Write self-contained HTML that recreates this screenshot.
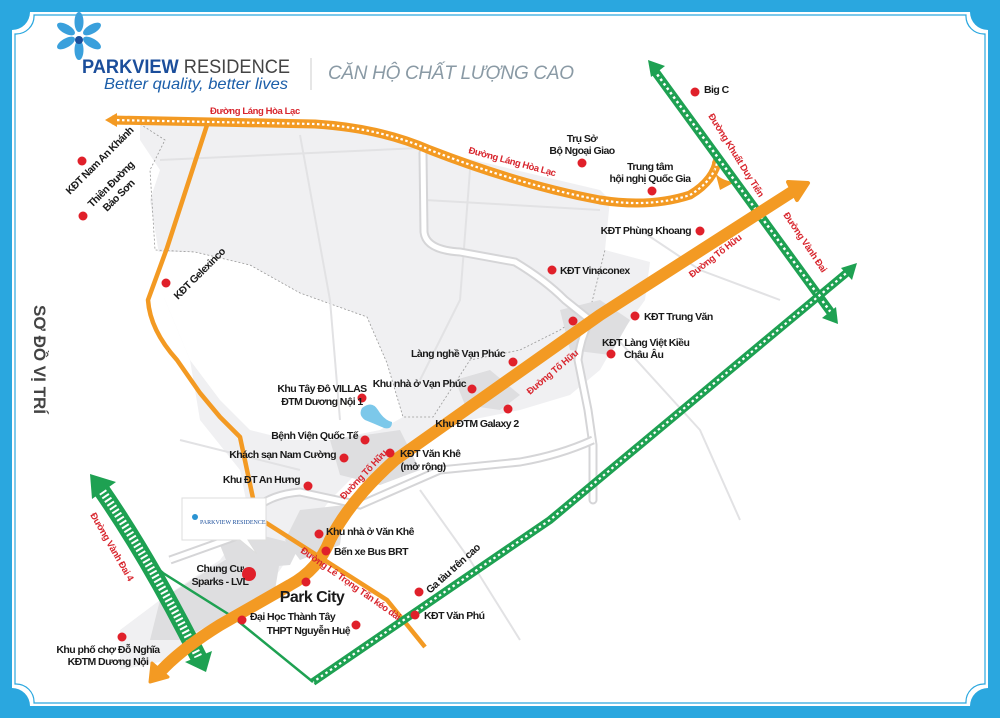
<!DOCTYPE html>
<html><head><meta charset="utf-8"><style>
html,body{margin:0;padding:0;width:1000px;height:718px;overflow:hidden;background:#2aa7df}
svg{display:block}
.t{font-family:"Liberation Sans Narrow","Liberation Sans",sans-serif;font-weight:bold;font-size:10.5px;letter-spacing:-0.55px;fill:#1a1a1a}
.r{font-family:"Liberation Sans Narrow","Liberation Sans",sans-serif;font-weight:bold;font-size:9.5px;letter-spacing:-0.4px;fill:#d8262e}
</style></head><body>
<svg width="1000" height="718" viewBox="0 0 1000 718" xmlns="http://www.w3.org/2000/svg">
<rect width="1000" height="718" fill="#2aa7df"/>
<path d="M30,12 H970 A18,18 0 0 0 988,30 V688 A18,18 0 0 0 970,706 H30 A18,18 0 0 0 12,688 V30 A18,18 0 0 0 30,12 Z" fill="#fff"/>
<path d="M34,15 H966 A18,18 0 0 0 985,34 V684 A18,18 0 0 0 966,703 H34 A18,18 0 0 0 15,684 V34 A18,18 0 0 0 34,15 Z" fill="none" stroke="#2aa7df" stroke-width="1.2"/>
<!-- grey area -->
<path d="M140,124 L330,126 L600,190 L610,200 L605,250 L650,262 L645,300 L620,335 L600,370 L570,395 L520,410 L470,420 L420,440 L360,470 L330,500 L300,540 L280,570 L250,610 L200,640 L170,660 L120,670 L120,630 L160,600 L220,560 L250,520 L240,470 L200,420 L190,360 L165,300 L160,260 L155,230 L150,200 L160,170 L140,140 Z" fill="#f0f0f2"/>
<path d="M155,252 L195,252 L250,265 L300,293 L367,317 L387,363 L403,417 L380,430 L330,440 L290,440 L250,430 L220,400 L190,360 L165,300 Z" fill="#fff"/>
<path d="M140,124 L165,140 L150,170 L155,250 L195,252 L250,265 L300,293 L367,317 L387,363 L403,417 L433,417 L470,360 L520,350 L560,330 L590,310 L605,250" fill="none" stroke="#999" stroke-width="0.8" stroke-dasharray="2,2"/>
<g stroke="#e2e2e4" stroke-width="2" fill="none">
<path d="M160,160 L420,148"/><path d="M300,135 L330,300 L340,420"/><path d="M425,200 L600,210"/>
<path d="M470,170 L460,300 L420,380"/><path d="M180,440 L300,470"/><path d="M600,320 L700,430 L740,520"/>
<path d="M640,230 L700,270 L780,300"/><path d="M420,490 L470,560 L520,640"/>
</g>
<g fill="#dedee0">
<path d="M160,600 L225,560 L280,560 L275,590 L230,615 L180,640 L150,640 Z"/>
<path d="M220,545 L260,535 L300,545 L290,565 L230,570 Z"/>
<path d="M300,510 L345,505 L340,545 L300,560 L285,540 Z"/>
<path d="M330,440 L400,430 L420,470 L380,485 L340,475 Z"/>
<path d="M455,380 L490,370 L520,395 L500,410 L465,405 Z"/>
<path d="M560,310 L600,300 L630,320 L610,355 L570,350 Z"/>
</g>
<path d="M423,153 L424,232 Q426,250 460,252 L515,262 Q545,280 565,300 L590,320 Q580,340 578,360 L588,410 L593,445 L593,500" fill="none" stroke="#d5d5d7" stroke-width="9" stroke-linecap="round"/>
<path d="M423,153 L424,232 Q426,250 460,252 L515,262 Q545,280 565,300 L590,320 Q580,340 578,360 L588,410 L593,445 L593,500" fill="none" stroke="#fff" stroke-width="5" stroke-linecap="round"/>
<path d="M593,440 Q560,455 520,462 L440,470 L360,505 L300,492 Q265,495 250,515 L240,535 L170,560" fill="none" stroke="#d5d5d7" stroke-width="9"/>
<path d="M593,440 Q560,455 520,462 L440,470 L360,505 L300,492 Q265,495 250,515 L240,535 L170,560" fill="none" stroke="#fff" stroke-width="5"/>
<path d="M362,408 Q372,400 378,410 Q384,420 392,422 Q392,430 384,428 Q375,424 365,420 Q358,415 362,408 Z" fill="#7cc8ea"/>
<path d="M208,122 L167,248 L148,300 Q150,330 177,360 L200,393 L220,417 L240,437 L247,470 L257,517 L387,600 L425,647" fill="none" stroke="#f39a23" stroke-width="4.5" stroke-linejoin="round"/>
<path d="M112,120 L315,124 Q380,128 430,150 Q520,185 600,200 Q650,208 690,195 Q715,180 718,158" fill="none" stroke="#f39a23" stroke-width="9"/>
<path d="M112,120 L315,124 Q380,128 430,150 Q520,185 600,200 Q650,208 690,195 Q715,180 718,158" fill="none" stroke="#fff" stroke-width="2.2" stroke-dasharray="2.5,2.5"/>
<path d="M105,120 L117,113 L117,127 Z" fill="#f39a23"/>
<path d="M712,160 Q712,180 735,182 L720,190 Z" fill="#f39a23"/>
<path d="M654,70 L832,314" stroke="#1ea152" stroke-width="9"/>
<path d="M654,70 L832,314" stroke="#fff" stroke-width="2.5" stroke-dasharray="2.5,3"/>
<path d="M648,60 L665,66 L651,77 Z" fill="#1ea152"/><path d="M838,324 L822,318 L836,307 Z" fill="#1ea152"/>
<path d="M850,270 L550,520 L313,682" fill="none" stroke="#1ea152" stroke-width="8"/>
<path d="M850,270 L550,520 L313,682" fill="none" stroke="#fff" stroke-width="2.2" stroke-dasharray="2.5,3"/>
<path d="M857,263 L852,280 L841,268 Z" fill="#1ea152"/>
<path d="M313,682 L233,617 L163,573 L133,547" fill="none" stroke="#1ea152" stroke-width="2.5"/>
<path d="M100,488 Q150,560 200,660" fill="none" stroke="#1ea152" stroke-width="17"/>
<path d="M100,488 Q150,560 200,660" fill="none" stroke="#fff" stroke-width="8" stroke-dasharray="2,2.5"/>
<path d="M90,474 L116,482 L92,499 Z" fill="#1ea152"/><path d="M206,672 L185,662 L212,651 Z" fill="#1ea152"/>
<path d="M795,190 L600,315 L395,460 Q350,500 330,540 Q318,570 290,585 L220,625 Q180,650 160,672" fill="none" stroke="#f39a23" stroke-width="12" stroke-linejoin="round"/>
<path d="M808,183 L788,182 L797,200 Z" fill="#f39a23" stroke="#f39a23" stroke-width="4" stroke-linejoin="round"/>
<path d="M150,682 L152,663 L168,677 Z" fill="#f39a23" stroke="#f39a23" stroke-width="3" stroke-linejoin="round"/>
<!-- logo -->
<g fill="#3aa0dc">
<ellipse cx="79" cy="22" rx="4.5" ry="10"/><ellipse cx="79" cy="50" rx="4.5" ry="10"/>
<ellipse cx="66" cy="29" rx="4.5" ry="10" transform="rotate(-60 66 29)"/><ellipse cx="92" cy="29" rx="4.5" ry="10" transform="rotate(60 92 29)"/>
<ellipse cx="66" cy="43" rx="4.5" ry="10" transform="rotate(60 66 43)"/><ellipse cx="92" cy="43" rx="4.5" ry="10" transform="rotate(-60 92 43)"/>
</g>
<circle cx="79" cy="40" r="4" fill="#1b4e9b"/>
<text x="82" y="73" font-family="Liberation Sans,sans-serif" font-size="19" fill="#1b4e9b" font-weight="bold" textLength="208" lengthAdjust="spacingAndGlyphs">PARKVIEW <tspan font-weight="normal" fill="#444">RESIDENCE</tspan></text>
<text x="104" y="89" font-family="Liberation Sans,sans-serif" font-style="italic" font-size="16" fill="#1b5ea9" textLength="184" lengthAdjust="spacingAndGlyphs">Better quality, better lives</text>
<line x1="311" y1="58" x2="311" y2="90" stroke="#ccc" stroke-width="1"/>
<text x="328" y="79" font-family="Liberation Sans,sans-serif" font-style="italic" font-size="19" fill="#8a9aa5" textLength="246">CĂN HỘ CHẤT LƯỢNG CAO</text>
<text transform="translate(34,305) rotate(90)" font-family="Liberation Sans,sans-serif" font-weight="bold" font-size="17" fill="#444">SƠ ĐỒ VỊ TRÍ</text>
<path d="M182,498 H266 V540 H248 L257,554 L240,540 H182 Z" fill="#fff" stroke="#ddd" stroke-width="1"/>
<text x="200" y="524" font-family="Liberation Serif,serif" font-size="6" fill="#1b4e9b">PARKVIEW RESIDENCE</text>
<circle cx="195" cy="517" r="3" fill="#2a93d2"/>
<g fill="#e0202a">
<circle cx="695" cy="92" r="4.5"/><circle cx="582" cy="163" r="4.5"/><circle cx="652" cy="191" r="4.5"/>
<circle cx="700" cy="231" r="4.5"/><circle cx="552" cy="270" r="4.5"/><circle cx="635" cy="316" r="4.5"/>
<circle cx="611" cy="354" r="4.5"/><circle cx="573" cy="321" r="4.5"/><circle cx="513" cy="362" r="4.5"/>
<circle cx="472" cy="389" r="4.5"/><circle cx="362" cy="398" r="4.5"/><circle cx="508" cy="409" r="4.5"/>
<circle cx="365" cy="440" r="4.5"/><circle cx="344" cy="458" r="4.5"/><circle cx="390" cy="453" r="4.5"/>
<circle cx="308" cy="486" r="4.5"/><circle cx="319" cy="534" r="4.5"/><circle cx="326" cy="551" r="4.5"/>
<circle cx="306" cy="582" r="4.5"/><circle cx="249" cy="574" r="7"/><circle cx="242" cy="620" r="4.5"/>
<circle cx="356" cy="625" r="4.5"/><circle cx="122" cy="637" r="4.5"/><circle cx="415" cy="615" r="4.5"/>
<circle cx="419" cy="592" r="4.5"/><circle cx="82" cy="161" r="4.5"/><circle cx="83" cy="216" r="4.5"/>
<circle cx="166" cy="283" r="4.5"/>
</g>
<g class="t">
<text x="704" y="93">Big C</text>
<text x="582" y="142" text-anchor="middle">Trụ Sở</text><text x="582" y="154" text-anchor="middle">Bộ Ngoại Giao</text>
<text x="650" y="170" text-anchor="middle">Trung tâm</text><text x="650" y="182" text-anchor="middle">hội nghị Quốc Gia</text>
<text x="691" y="234" text-anchor="end">KĐT Phùng Khoang</text>
<text x="560" y="274">KĐT Vinaconex</text>
<text x="644" y="320">KĐT Trung Văn</text>
<text x="602" y="346">KĐT Làng Việt Kiều</text><text x="624" y="358">Châu Âu</text>
<text x="505" y="357" text-anchor="end">Làng nghề Vạn Phúc</text>
<text x="466" y="387" text-anchor="end">Khu nhà ở Vạn Phúc</text>
<text x="322" y="392" text-anchor="middle">Khu Tây Đô VILLAS</text><text x="322" y="405" text-anchor="middle">ĐTM Dương Nội 1</text>
<text x="477" y="427" text-anchor="middle">Khu ĐTM Galaxy 2</text>
<text x="358" y="439" text-anchor="end">Bệnh Viện Quốc Tế</text>
<text x="336" y="458" text-anchor="end">Khách sạn Nam Cường</text>
<text x="400" y="457">KĐT Văn Khê</text><text x="423" y="470" text-anchor="middle">(mở rộng)</text>
<text x="300" y="483" text-anchor="end">Khu ĐT An Hưng</text>
<text x="326" y="535">Khu nhà ở Văn Khê</text>
<text x="334" y="555">Bến xe Bus BRT</text>
<text x="312" y="602" text-anchor="middle" font-size="16">Park City</text>
<text x="220" y="572" text-anchor="middle">Chung Cư</text><text x="220" y="585" text-anchor="middle">Sparks - LVL</text>
<text x="250" y="620">Đại Học Thành Tây</text>
<text x="350" y="634" text-anchor="end">THPT Nguyễn Huệ</text>
<text x="108" y="653" text-anchor="middle">Khu phố chợ Đỗ Nghĩa</text><text x="108" y="665" text-anchor="middle">KĐTM Dương Nội</text>
<text x="424" y="619">KĐT Văn Phú</text>
<text transform="translate(430,594) rotate(-42)">Ga tàu trên cao</text>
<text transform="translate(70,195) rotate(-45)">KĐT Nam An Khánh</text>
<text transform="translate(92,208) rotate(-45)">Thiên Đường</text>
<text transform="translate(107,212) rotate(-45)">Bảo Sơn</text>
<text transform="translate(178,300) rotate(-45)">KĐT Gelexinco</text>
</g>
<g class="r">
<text x="210" y="114">Đường Láng Hòa Lạc</text>
<text transform="translate(468,153) rotate(15)">Đường Láng Hòa Lạc</text>
<text transform="translate(708,116) rotate(58)">Đường Khuất Duy Tiến</text>
<text transform="translate(783,215) rotate(56)">Đường Vành Đai</text>
<text transform="translate(692,278) rotate(-38)">Đường Tố Hữu</text>
<text transform="translate(530,395) rotate(-40)">Đường Tố Hữu</text>
<text transform="translate(344,500) rotate(-47)">Đường Tố Hữu</text>
<text transform="translate(300,552) rotate(35)">Đường Lê Trọng Tấn kéo dài</text>
<text transform="translate(90,515) rotate(60)">Đường Vành Đai 4</text>
</g>
</svg>
</body></html>
